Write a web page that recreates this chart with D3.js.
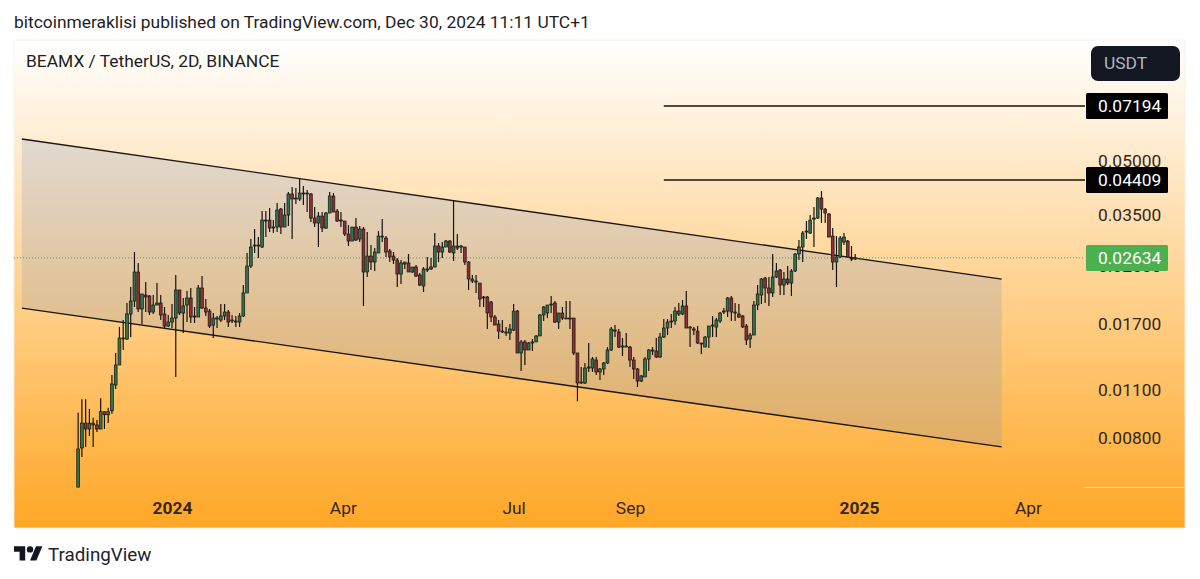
<!DOCTYPE html>
<html>
<head>
<meta charset="utf-8">
<script src="https://d3js.org/d3.v7.min.js"></script>
<style>
  html, body { margin: 0; padding: 0; background: #fff; overflow: hidden; }
  svg { display: block; font-family: Roboto, sans-serif; }
</style>
</head>
<body>
<svg id="chart" width="1200" height="579"></svg>
<script>
"use strict";
// prices are in units of 0.00001 USDT
const PRICE_UNIT = 1e-5;
const FIRST_CANDLE = "2023-11-12";
const CANDLE_DAYS = 2;

const opens = [578,749,883,849,883,872,849,952,933,958,1136,1297,1550,1540,1817,1980,2399,1878,2060,2047,1841,1928,1954,1817,1678,1723,1769,2130,1829,1928,2020,1793,1781,2158,1890,1853,1689,1758,1746,1793,1841,1735,1723,1723,1793,2088,2496,2849,2868,2830,3361,3383,3209,3230,3638,3230,3497,4019,3888,3888,4045,4019,4019,3428,3317,3474,3209,3543,3966,3590,3361,3361,3084,2944,3230,2984,3188,2399,2666,2563,2720,3023,3003,2756,2666,2597,2367,2563,2546,2399,2479,2352,2187,2431,2447,2479,2849,2738,2830,2944,2720,2849,2830,2830,2563,2260,2260,2230,2020,2033,1967,1781,1700,1613,1602,1602,1634,1853,1404,1510,1432,1500,1510,1571,1805,1829,1928,1954,1723,1829,1758,1769,1769,1404,1151,1151,1271,1271,1340,1238,1263,1314,1432,1634,1613,1460,1460,1460,1340,1263,1166,1198,1349,1422,1422,1367,1560,1656,1723,1735,1817,1817,1916,1656,1645,1623,1500,1460,1560,1689,1667,1735,1841,1853,2020,1829,1817,1793,1678,1540,1581,1928,2060,2305,2158,2088,2321,2431,2201,2290,2230,2415,2702,2830,3125,3104,3405,3428,3914,3638,3520,3043,2563,2649,2925,2944,2631,2614];
const highs = [946,1034,1034,970,915,901,1041,952,978,1214,1404,1667,1746,1954,2172,2738,2546,2074,2245,2060,2060,2230,2060,1903,1805,1941,2352,2130,2020,2116,2158,1903,2201,2336,2007,1878,1829,1793,1941,1941,1866,1805,1793,1829,2201,2720,2984,3188,3023,3590,3590,3663,3383,3786,3663,3786,4072,4209,4181,4438,4237,4127,4045,3687,3567,3567,3567,4072,4045,3638,3567,3361,3273,3230,3428,3251,3230,3125,2868,2811,3146,3405,3043,2793,2738,2631,2597,2563,2702,2479,2512,2383,2479,2649,2631,3104,2906,2925,2964,2964,3837,3084,2868,2830,2580,2352,2352,2230,2047,2047,1980,1805,1746,1746,1667,1700,1941,1866,1530,1530,1510,1540,1581,1817,1916,1928,2047,1980,1829,1903,1980,1980,1769,1404,1280,1314,1500,1367,1367,1271,1323,1460,1667,1689,1645,1550,1602,1470,1367,1271,1214,1367,1441,1460,1550,1602,1758,1758,1817,1903,1954,1993,2116,1678,1667,1678,1500,1571,1678,1793,1769,1841,1890,2033,2047,1954,1941,1805,1700,1602,1980,2201,2305,2321,2321,2702,2546,2447,2399,2496,2447,2720,2964,3146,3361,3497,3687,3940,4099,3663,3543,3209,3043,3043,3104,2964,2849,2702];
const lows = [578,706,754,811,754,832,849,849,883,939,1107,1297,1432,1530,1560,1903,1841,1700,1841,1805,1817,1928,1746,1656,1667,1656,1198,1805,1602,1723,1712,1712,1781,1878,1793,1656,1550,1656,1723,1746,1667,1712,1667,1667,1781,2088,2463,2720,2631,2811,3023,3125,3104,3125,3084,3230,3251,2984,3761,3837,3736,3567,3339,3230,2830,3125,3188,3543,3567,3339,3230,3043,2849,2944,2944,2925,1916,2321,2431,2415,2720,2925,2649,2563,2529,2172,2216,2447,2399,2383,2321,2187,2102,2399,2431,2479,2563,2631,2830,2720,2580,2774,2720,2512,2130,2230,2088,1903,1903,1645,1723,1689,1540,1602,1571,1530,1623,1404,1246,1297,1432,1422,1510,1571,1735,1769,1829,1712,1645,1746,1758,1645,1385,1020,1144,1144,1238,1238,1214,1174,1214,1305,1422,1560,1451,1376,1460,1280,1182,1121,1159,1198,1246,1385,1358,1358,1550,1581,1656,1689,1793,1805,1656,1460,1581,1490,1395,1460,1451,1560,1560,1712,1817,1781,1735,1735,1769,1656,1480,1451,1581,1866,1941,1954,1916,2033,2305,2060,2060,2201,2047,2399,2597,2563,2984,3084,2830,3405,3317,3317,3023,2431,2172,2631,2868,2649,2580,2597];
const closes = [744,883,849,883,872,849,952,933,952,1144,1297,1550,1540,1817,1980,2399,1878,2074,2033,1841,1928,1954,1805,1678,1723,1769,2130,1829,1916,2020,1781,1781,2158,1890,1841,1678,1769,1769,1793,1841,1723,1746,1735,1793,2088,2496,2830,2868,2849,3383,3383,3209,3230,3614,3230,3497,4019,3888,3914,4045,4019,4045,3428,3317,3474,3209,3543,3966,3567,3361,3383,3084,2944,3230,2964,3188,2399,2666,2563,2738,3043,3043,2738,2649,2597,2367,2546,2529,2399,2479,2336,2201,2447,2447,2479,2849,2738,2830,2944,2738,2849,2811,2849,2563,2290,2290,2245,2007,2033,1829,1781,1689,1623,1623,1613,1645,1853,1404,1510,1432,1500,1510,1571,1805,1903,1928,1941,1723,1829,1769,1769,1758,1404,1151,1159,1271,1280,1349,1238,1263,1314,1432,1645,1623,1460,1470,1470,1340,1263,1166,1206,1349,1432,1432,1367,1560,1656,1723,1735,1853,1853,1916,1656,1667,1634,1500,1490,1560,1678,1678,1746,1829,1853,2020,1841,1841,1781,1667,1530,1581,1928,2074,2290,2158,2088,2321,2415,2201,2290,2230,2415,2702,2830,3104,3146,3383,3428,3914,3638,3543,3023,2563,2649,3003,3023,2649,2614,2634];

const priceTicks = [0.05, 0.035, 0.025, 0.017, 0.011, 0.008];
const timeTicks = ["2024-01-01", "2024-04-01", "2024-07-01", "2024-09-01", "2025-01-01", "2025-04-01"];
const timeLabels = ["2024", "Apr", "Jul", "Sep", "2025", "Apr"];
const yearLabels = ["2024", "2025"];

const channelDates = ["2023-10-13", "2025-03-18"];
const channelUpper = [0.05784, 0.0229];
const channelLower = [0.0189, 0.00754];

const levelPrices = [0.07194, 0.04409];
const levelStart = "2024-09-19";
const lastPrice = 0.02634;

const titleText = "bitcoinmeraklisi published on TradingView.com, Dec 30, 2024 11:11 UTC+1";
const symbolText = "BEAMX / TetherUS, 2D, BINANCE";

const svg = d3.select("#chart");
const date = (s) => new Date(s + "T00:00:00Z");
const x = d3.scaleUtc().domain([date("2024-01-01"), date("2025-01-01")]).range([172, 859]);
const y = d3.scaleLog().domain([0.008, 0.05]).range([438, 161]);
const fmt = d3.format(".5f");

const panel = { left: 14, right: 1185, top: 40, bottom: 528, axisLeft: 1085 };

const candles = opens.map((o, i) => ({
  t: d3.utcDay.offset(date(FIRST_CANDLE), i * CANDLE_DAYS),
  o: o * PRICE_UNIT, h: highs[i] * PRICE_UNIT, l: lows[i] * PRICE_UNIT, c: closes[i] * PRICE_UNIT
}));

const defs = svg.append("defs");
const bg = defs.append("linearGradient").attr("id", "bg").attr("x1", 0).attr("x2", 0).attr("y1", 0).attr("y2", 1);
bg.append("stop").attr("offset", 0).attr("stop-color", "#ffffff");
bg.append("stop").attr("offset", 1).attr("stop-color", "#ffa726");

// panel
svg.append("rect").attr("x", panel.left).attr("y", panel.top)
  .attr("width", panel.right - panel.left).attr("height", panel.bottom - panel.top)
  .attr("fill", "url(#bg)").attr("stroke", "#f4f0ea").attr("stroke-width", 0.8);

// channel
const ch = svg.append("g");
const corners = [
  [channelDates[0], channelUpper[0]], [channelDates[1], channelUpper[1]],
  [channelDates[1], channelLower[1]], [channelDates[0], channelLower[0]]
];
ch.append("path")
  .attr("d", d3.line().x((d) => x(date(d[0]))).y((d) => y(d[1]))(corners) + "Z")
  .attr("fill", "#6a8cc8").attr("fill-opacity", 0.2);
[channelUpper, channelLower].forEach((p) => {
  ch.append("line")
    .attr("x1", x(date(channelDates[0]))).attr("y1", y(p[0]))
    .attr("x2", x(date(channelDates[1]))).attr("y2", y(p[1]))
    .attr("stroke", "#1c1712").attr("stroke-width", 1.3);
});

// last price dotted line
svg.append("line").attr("x1", panel.left).attr("x2", panel.axisLeft)
  .attr("y1", y(lastPrice)).attr("y2", y(lastPrice))
  .attr("stroke", "#4c9a5a").attr("stroke-width", 1).attr("stroke-dasharray", "1 2");

// horizontal levels
svg.append("g").selectAll("line").data(levelPrices).join("line")
  .attr("x1", x(date(levelStart))).attr("x2", panel.axisLeft)
  .attr("y1", (d) => y(d)).attr("y2", (d) => y(d))
  .attr("stroke", "#17120c").attr("stroke-width", 1.3);

// candles
const candle = svg.append("g").selectAll("g").data(candles).join("g");
candle.append("line")
  .attr("x1", (d) => x(d.t)).attr("x2", (d) => x(d.t))
  .attr("y1", (d) => y(d.h)).attr("y2", (d) => y(d.l))
  .attr("stroke", "#17130e").attr("stroke-width", 1.2);
candle.append("rect")
  .attr("x", (d) => x(d.t) - 1.4).attr("width", 2.8)
  .attr("y", (d) => y(Math.max(d.o, d.c)))
  .attr("height", (d) => Math.max(0.8, Math.abs(y(d.o) - y(d.c))))
  .attr("fill", (d) => d.c >= d.o ? "#2f7350" : "#8c3038")
  .attr("stroke", "#17130e").attr("stroke-width", 0.7);

// axes
const textColor = "#33261a";
const yAxis = svg.append("g").attr("transform", "translate(1098,0)")
  .call(d3.axisRight(y).tickValues(priceTicks).tickFormat(fmt).tickSize(0).tickPadding(0));
const xAxis = svg.append("g").attr("transform", "translate(0,502)")
  .call(d3.axisBottom(x).tickValues(timeTicks.map(date))
    .tickFormat((d, i) => timeLabels[i]).tickSize(0).tickPadding(0));
[yAxis, xAxis].forEach((a) => {
  a.select(".domain").remove();
  a.selectAll("text").attr("fill", textColor).style("font-size", "17.4px").style("font-family", "Roboto, sans-serif");
});
xAxis.selectAll("text").style("font-weight", (d, i) => yearLabels.includes(timeLabels[i]) ? 700 : 400);

svg.append("line").attr("x1", 1084).attr("x2", panel.right).attr("y1", 487.5).attr("y2", 487.5)
  .attr("stroke", "#ffe0b0").attr("stroke-width", 1);

// price labels
const tags = [
  { price: levelPrices[0], fill: "#000000" },
  { price: levelPrices[1], fill: "#000000" },
  { price: lastPrice, fill: "#4caf50" }
];
const tag = svg.append("g").selectAll("g").data(tags).join("g")
  .attr("transform", (d) => `translate(1086,${y(d.price)})`);
tag.append("rect").attr("x", 0).attr("y", -13).attr("width", 82).attr("height", 26).attr("rx", 1.5)
  .attr("fill", (d) => d.fill);
tag.append("text").attr("x", 12).attr("dy", "0.36em").attr("fill", "#fff")
  .style("font-size", "17.4px").text((d) => fmt(d.price));

// currency box
svg.append("rect").attr("x", 1091).attr("y", 46).attr("width", 89).attr("height", 35).attr("rx", 7).attr("fill", "#131722");
svg.append("text").attr("x", 1104).attr("y", 69).attr("fill", "#b2b5be").style("font-size", "17.4px").text("USDT");

// header and footer text
svg.append("text").attr("x", 14).attr("y", 28).attr("fill", "#1e1e1e").style("font-size", "17.4px").text(titleText);
svg.append("text").attr("x", 26).attr("y", 67).attr("fill", "#1e1e1e").style("font-size", "17.4px").text(symbolText);

const logo = svg.append("g").attr("transform", "translate(14,543) scale(0.8)").attr("fill", "#131722");
logo.append("path").attr("d", "M14 22H7V11H0V4h14v18zM28 22h-8l7.5-18h8L28 22z");
logo.append("circle").attr("cx", 20).attr("cy", 8).attr("r", 4);
svg.append("text").attr("x", 48).attr("y", 561).attr("fill", "#1e222d").style("font-size", "18.8px").text("TradingView");
</script>
</body>
</html>
